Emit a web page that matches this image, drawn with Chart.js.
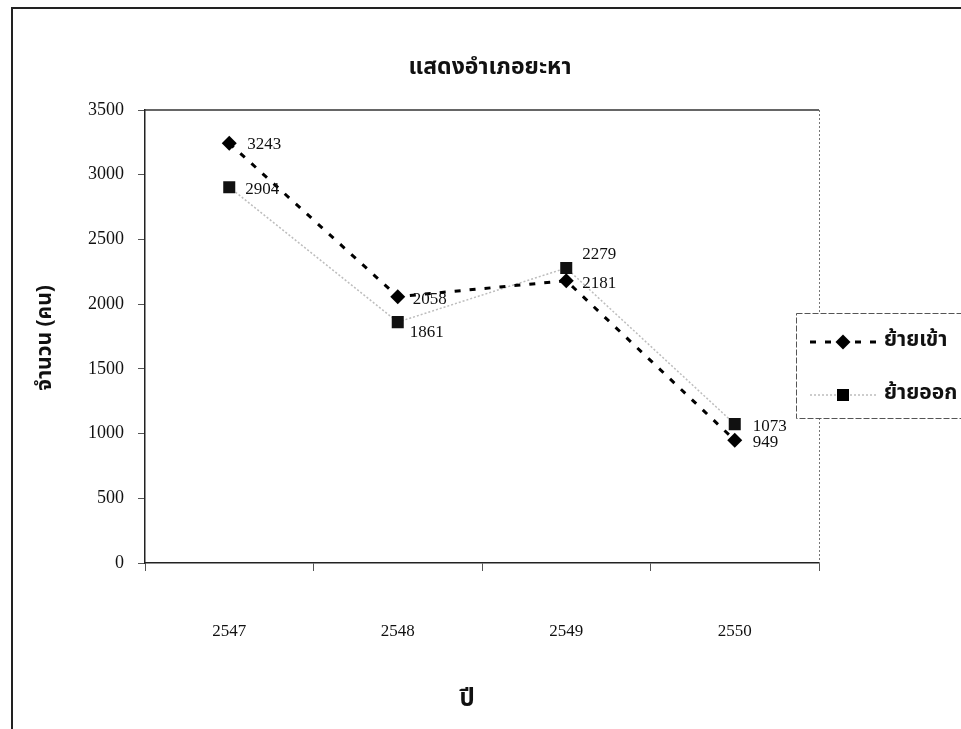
<!DOCTYPE html>
<html>
<head>
<meta charset="utf-8">
<script src="https://cdn.jsdelivr.net/npm/chart.js@4/dist/chart.umd.min.js"></script>
<style>
  html,body{margin:0;padding:0;background:#fff;}
  #wrap{width:961px;height:729px;position:relative;}
</style>
</head>
<body>
<div id="wrap"><canvas id="c"></canvas></div>
<script>
const categories = ['2547', '2548', '2549', '2550'];
const moveIn = [3243, 2058, 2181, 949];
const moveOut = [2904, 1861, 2279, 1073];
const seriesNames = ['ย้ายเข้า', 'ย้ายออก'];
const yTicks = [0, 500, 1000, 1500, 2000, 2500, 3000, 3500];
const chartTitle = 'แสดงอำเภอยะหา';
const yTitle = 'จำนวน (คน)';
const xTitle = 'ปี';

const serif = "'Liberation Serif', 'Times New Roman', serif";
const thai = "'Noto Sans Thai', 'Noto Sans', 'DejaVu Sans', sans-serif";

const labelOffsets = [
  [[18, 1], [15, 3], [16, 3], [18, 2]],
  [[16, 2], [12, 10], [16, -14], [18, 2]]
];

const decor = {
  id: 'decor',
  beforeDatasetsDraw(chart) {
    const {ctx, chartArea: a} = chart;
    ctx.save();
    ctx.strokeStyle = '#333'; ctx.lineWidth = 1.5;
    ctx.beginPath(); ctx.moveTo(a.left, a.top); ctx.lineTo(a.right, a.top); ctx.stroke();
    ctx.strokeStyle = '#777'; ctx.lineWidth = 1; ctx.setLineDash([2, 2]);
    ctx.beginPath(); ctx.moveTo(a.right + 0.5, a.top); ctx.lineTo(a.right + 0.5, a.bottom); ctx.stroke();
    ctx.restore();
  },
  afterDraw(chart) {
    const {ctx} = chart;
    ctx.save();
    // outer frame
    ctx.strokeStyle = '#222'; ctx.lineWidth = 2;
    ctx.beginPath(); ctx.moveTo(12, 740); ctx.lineTo(12, 8); ctx.lineTo(970, 8); ctx.stroke();

    // data labels
    ctx.fillStyle = '#111';
    ctx.font = '17px ' + serif;
    ctx.textAlign = 'left'; ctx.textBaseline = 'middle';
    chart.data.datasets.forEach((ds, di) => {
      const meta = chart.getDatasetMeta(di);
      meta.data.forEach((pt, i) => {
        const off = labelOffsets[di][i];
        ctx.fillText(String(ds.data[i]), pt.x + off[0], pt.y + off[1]);
      });
    });

    // titles
    ctx.fillStyle = '#111';
    ctx.textAlign = 'center'; ctx.textBaseline = 'middle';
    ctx.font = 'bold 23px ' + thai;
    ctx.fillText(chartTitle, 490, 69);
    ctx.font = 'bold 24px ' + thai;
    ctx.fillText(xTitle, 467, 701);
    ctx.save();
    ctx.translate(47, 338); ctx.rotate(-Math.PI / 2);
    ctx.font = 'bold 21px ' + thai;
    ctx.fillText(yTitle, 0, 0);
    ctx.restore();

    // legend box
    const lx = 796, ly = 313, lw = 200, lh = 105;
    ctx.fillStyle = '#fff';
    ctx.fillRect(lx, ly, lw, lh);
    ctx.strokeStyle = '#555'; ctx.lineWidth = 1; ctx.setLineDash([6, 2]);
    ctx.strokeRect(lx + 0.5, ly + 0.5, lw, lh);
    ctx.setLineDash([]);
    const rows = [342, 395];
    chart.data.datasets.forEach((ds, di) => {
      const y = rows[di];
      ctx.save();
      ctx.strokeStyle = ds.borderColor; ctx.lineWidth = ds.borderWidth;
      ctx.setLineDash(ds.borderDash || []);
      ctx.beginPath(); ctx.moveTo(810, y); ctx.lineTo(876, y); ctx.stroke();
      ctx.setLineDash([]);
      ctx.fillStyle = '#000';
      ctx.beginPath();
      if (ds.pointStyle === 'rectRot') {
        const r = ds.pointRadius;
        ctx.moveTo(843, y - r); ctx.lineTo(843 + r, y); ctx.lineTo(843, y + r); ctx.lineTo(843 - r, y); ctx.closePath();
      } else {
        const s = ds.pointRadius * Math.SQRT1_2;
        ctx.rect(843 - s, y - s, 2 * s, 2 * s);
      }
      ctx.fill();
      ctx.restore();
      ctx.fillStyle = '#111';
      ctx.font = 'bold 21px ' + thai;
      ctx.textAlign = 'left'; ctx.textBaseline = 'middle';
      ctx.fillText(ds.label, 884, y);
    });
    ctx.restore();
  }
};

new Chart(document.getElementById('c'), {
  type: 'line',
  data: {
    labels: categories,
    datasets: [
      {
        label: seriesNames[0],
        data: moveIn,
        borderColor: '#000',
        borderWidth: 3,
        borderDash: [6, 9],
        pointStyle: 'rectRot',
        pointRadius: 7.5,
        pointBackgroundColor: '#000',
        pointBorderColor: '#000',
        pointBorderWidth: 0,
        tension: 0,
        order: 1
      },
      {
        label: seriesNames[1],
        data: moveOut,
        borderColor: '#bdbdbd',
        borderWidth: 1.5,
        borderDash: [2, 2],
        pointStyle: 'rect',
        pointRadius: 8.5,
        pointBackgroundColor: '#111',
        pointBorderColor: '#111',
        pointBorderWidth: 0,
        tension: 0,
        order: 2
      }
    ]
  },
  options: {
    responsive: true,
    maintainAspectRatio: false,
    devicePixelRatio: 1,
    animation: false,
    layout: { padding: { left: 0, top: 110, right: 142, bottom: 0 } },
    plugins: { legend: { display: false }, title: { display: false }, tooltip: { enabled: false } },
    scales: {
      x: {
        type: 'category',
        offset: true,
        grid: { display: true, drawOnChartArea: false, offset: true, tickLength: 8, color: '#555', lineWidth: 1 },
        border: { display: true, color: '#222', width: 1.5 },
        ticks: { color: '#111', font: { family: serif, size: 17 }, padding: 50 },
        afterFit(scale) { scale.height = 166; }
      },
      y: {
        min: 0, max: 3500,
        afterBuildTicks(scale) { scale.ticks = yTicks.map(v => ({ value: v })); },
        grid: { display: true, drawOnChartArea: false, tickLength: 7, color: '#555', lineWidth: 1 },
        border: { display: true, color: '#222', width: 1.5 },
        ticks: { color: '#111', font: { family: serif, size: 18 }, padding: 14, callback: (v) => String(v) },
        afterFit(scale) { scale.width = 145; }
      }
    }
  },
  plugins: [decor]
});
</script>
</body>
</html>
